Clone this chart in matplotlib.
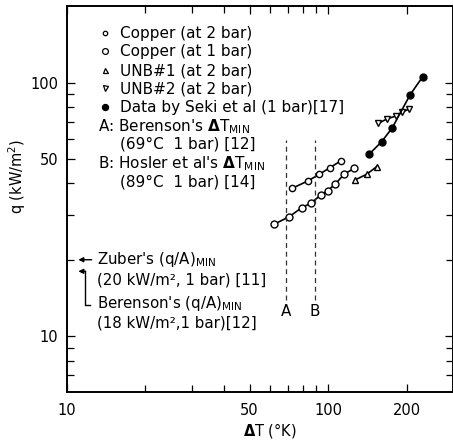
import matplotlib
matplotlib.use("Agg")
import matplotlib.pyplot as plt
from matplotlib.ticker import FixedLocator, NullFormatter, FixedFormatter

plt.rcParams['font.family'] = ['DejaVu Sans']
plt.rcParams['mathtext.fontset'] = 'dejavusans'

# ---- data ----
cu2_dT = [72.8, 83.8, 92.4, 101.5, 111.5]
cu2_q = [38.3, 41.0, 43.5, 46.2, 49.1]

cu1_dT = [62.0, 71.0, 79.1, 85.6, 93.5, 99.4, 106.1, 115.1, 125.7]
cu1_q = [27.6, 29.6, 32.1, 33.4, 36.0, 37.5, 39.7, 43.6, 45.9]

unb1_dT = [126.4, 140.2, 153.0]
unb1_q = [41.3, 43.5, 46.6]

unb2_dT = [154.8, 167.5, 181.3, 191.2, 203.4]
unb2_q = [69.0, 71.9, 73.9, 76.4, 78.7]

seki_dT = [143.0, 159.9, 175.6, 205.1, 229.4]
seki_q = [52.1, 58.5, 66.4, 89.4, 105.6]

dTmin_A = 69
dTmin_B = 89
qmin_zuber = 20
qmin_berenson = 18

x_ticks = [10, 50, 100, 200]
x_ticklabels = ["10", "50", "100", "200"]
y_ticks = [10, 50, 100]
y_ticklabels = ["10", "50", "100"]

legend_labels = ["Copper (at 2 bar)", "Copper (at 1 bar)", "UNB#1 (at 2 bar)",
                 "UNB#2 (at 2 bar)", "Data by Seki et al (1 bar)[17]"]

# ---- figure ----
W, H = 453, 442
fig = plt.figure(figsize=(W / 100, H / 100), dpi=100)
left_px, right_px, top_px, bot_px = 66.67, 453.2, 6.4, 392.2
ax = fig.add_axes([left_px / W, 1 - bot_px / H, (right_px - left_px) / W, (bot_px - top_px) / H])
ax.set_xscale('log')
ax.set_yscale('log')
ax.set_xlim(10, 300)
ax.set_ylim(6, 200)

line_kw = dict(color='black', lw=1.2)
ax.plot(cu2_dT, cu2_q, marker='o', ms=4.5, mfc='white', mec='black', mew=1.0, **line_kw)
ax.plot(cu1_dT, cu1_q, marker='o', ms=5.0, mfc='white', mec='black', mew=1.0, **line_kw)
ax.plot(unb1_dT, unb1_q, marker='^', ms=5.0, mfc='white', mec='black', mew=1.0, **line_kw)
ax.plot(unb2_dT, unb2_q, marker='v', ms=5.0, mfc='white', mec='black', mew=1.0, **line_kw)
ax.plot(seki_dT, seki_q, marker='o', ms=5.0, mfc='black', mec='black', **line_kw)

# A / B dashed lines
for xv, lab in [(dTmin_A, "A"), (dTmin_B, "B")]:
    ax.plot([xv, xv], [13.9, 59.4], color='#333333', lw=0.9, ls=(0, (4, 3)))
    ax.text(xv, 12.5, lab, ha='center', va='center', fontsize=11)

# Zuber / Berenson arrows
ax.annotate('', xy=(11.08, qmin_zuber), xytext=(12.46, qmin_zuber),
            arrowprops=dict(arrowstyle='-|>', lw=1.0, color='black', mutation_scale=7,
                            shrinkA=0, shrinkB=0))
ax.annotate('', xy=(11.08, qmin_berenson), xytext=(11.8, qmin_berenson),
            arrowprops=dict(arrowstyle='-|>', lw=1.0, color='black', mutation_scale=7,
                            shrinkA=0, shrinkB=0))
ax.plot([11.75, 11.75, 12.3], [qmin_berenson, 13.3, 13.3], color='black', lw=1.0)

# ticks
ax.xaxis.set_major_locator(FixedLocator(x_ticks))
ax.xaxis.set_major_formatter(FixedFormatter(x_ticklabels))
ax.xaxis.set_minor_locator(FixedLocator([20, 30, 40, 60, 70, 80, 90]))
ax.xaxis.set_minor_formatter(NullFormatter())
ax.yaxis.set_major_locator(FixedLocator(y_ticks))
ax.yaxis.set_major_formatter(FixedFormatter(y_ticklabels))
ax.yaxis.set_minor_locator(FixedLocator([7, 8, 9, 20, 30, 40, 60, 70, 80, 90]))
ax.yaxis.set_minor_formatter(NullFormatter())
ax.tick_params(which='both', direction='in', top=True, right=True, width=0.9, labelsize=10.5)
ax.tick_params(which='major', length=6)
ax.tick_params(which='minor', length=5)
ax.tick_params(axis='x', pad=8)
ax.tick_params(axis='y', pad=6)
for s in ax.spines.values():
    s.set_linewidth(1.4)

ax.set_xlabel(r"$\mathbf{\Delta}$T (°K)", fontsize=10.5, va='center')
ax.set_ylabel(r"q (kW/m$^2$)", fontsize=10.5, va='center')
ax.xaxis.set_label_coords((270 - left_px) / (right_px - left_px), -(430 - bot_px) / (bot_px - top_px))
ax.yaxis.set_label_coords(-(66.67 - 17) / (right_px - left_px), (bot_px - 176.7) / (bot_px - top_px))

# legend (drawn manually)
def fx(px):
    return px / W

def fy(py):
    return 1 - py / H

rows_px = [33.3, 51, 70, 88.3, 107.3]
markers = [dict(marker='o', ms=3.2, mfc='white'), dict(marker='o', ms=4.2, mfc='white'),
           dict(marker='^', ms=3.6, mfc='white'), dict(marker='v', ms=3.6, mfc='white'),
           dict(marker='o', ms=4.4, mfc='black')]
for py, mk, lab in zip(rows_px, markers, legend_labels):
    fig.add_artist(plt.Line2D([fx(105)], [fy(py)], color='black', mec='black', mew=0.9,
                              transform=fig.transFigure, **mk))
    fig.text(fx(120), fy(py + 5), lab, fontsize=11, va='baseline', ha='left')

extra = [
    (98.3, 131, r"A: Berenson's $\mathbf{\Delta}$T$_{\mathrm{MIN}}$", 11),
    (120, 148.3, "(69°C  1 bar) [12]", 11),
    (98.3, 168.3, r"B: Hosler et al's $\mathbf{\Delta}$T$_{\mathrm{MIN}}$", 11),
    (120, 186.7, "(89°C  1 bar) [14]", 11),
    (97.3, 264.3, r"Zuber's (q/A)$_{\mathrm{MIN}}$", 10.8),
    (97.3, 284.3, "(20 kW/m², 1 bar) [11]", 10.8),
    (97.3, 308.3, r"Berenson's (q/A)$_{\mathrm{MIN}}$", 10.8),
    (97.3, 327.2, "(18 kW/m²,1 bar)[12]", 10.8),
]
for px, py, t, fs in extra:
    fig.text(fx(px), fy(py), t, fontsize=fs, va='baseline', ha='left')

fig.savefig("out.png", dpi=100)
